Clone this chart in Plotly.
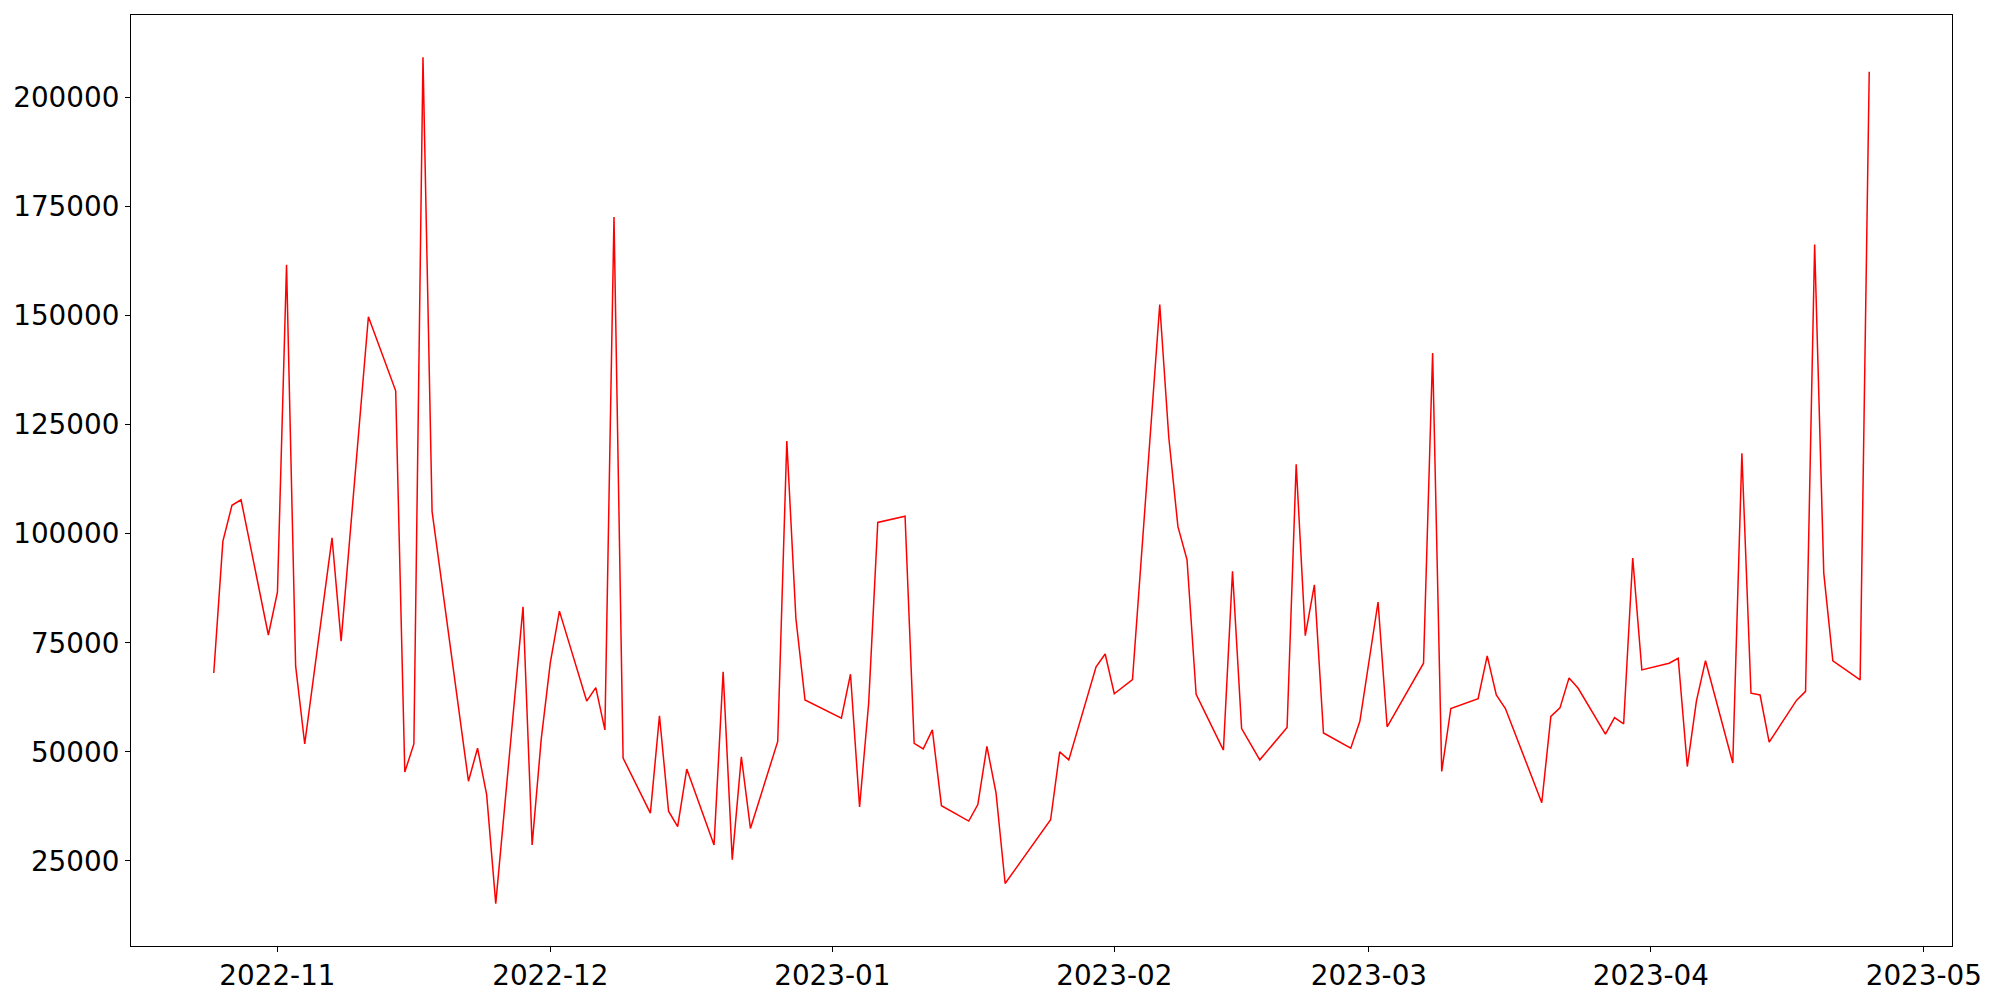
import pandas as pd
import plotly.graph_objects as go

dates = [
    "2022-10-25", "2022-10-26", "2022-10-27", "2022-10-28", "2022-10-31",
    "2022-11-01", "2022-11-02", "2022-11-03", "2022-11-04", "2022-11-07",
    "2022-11-08", "2022-11-11", "2022-11-14", "2022-11-15", "2022-11-16",
    "2022-11-17", "2022-11-18", "2022-11-22", "2022-11-23", "2022-11-24",
    "2022-11-25", "2022-11-28", "2022-11-29", "2022-11-30", "2022-12-01",
    "2022-12-02", "2022-12-05", "2022-12-06", "2022-12-07", "2022-12-08",
    "2022-12-09", "2022-12-12", "2022-12-13", "2022-12-14", "2022-12-15",
    "2022-12-16", "2022-12-19", "2022-12-20", "2022-12-21", "2022-12-22",
    "2022-12-23", "2022-12-26", "2022-12-27", "2022-12-28", "2022-12-29",
    "2023-01-02", "2023-01-03", "2023-01-04", "2023-01-05", "2023-01-06",
    "2023-01-09", "2023-01-10", "2023-01-11", "2023-01-12", "2023-01-13",
    "2023-01-16", "2023-01-17", "2023-01-18", "2023-01-19", "2023-01-20",
    "2023-01-25", "2023-01-26", "2023-01-27", "2023-01-30", "2023-01-31",
    "2023-02-01", "2023-02-03", "2023-02-06", "2023-02-07", "2023-02-08",
    "2023-02-09", "2023-02-10", "2023-02-13", "2023-02-14", "2023-02-15",
    "2023-02-17", "2023-02-20", "2023-02-21", "2023-02-22", "2023-02-23",
    "2023-02-24", "2023-02-27", "2023-02-28", "2023-03-02", "2023-03-03",
    "2023-03-07", "2023-03-08", "2023-03-09", "2023-03-10", "2023-03-13",
    "2023-03-14", "2023-03-15", "2023-03-16", "2023-03-20", "2023-03-21",
    "2023-03-22", "2023-03-23", "2023-03-24", "2023-03-27", "2023-03-28",
    "2023-03-29", "2023-03-30", "2023-03-31", "2023-04-03", "2023-04-04",
    "2023-04-05", "2023-04-06", "2023-04-07", "2023-04-10", "2023-04-11",
    "2023-04-12", "2023-04-13", "2023-04-14", "2023-04-17", "2023-04-18",
    "2023-04-19", "2023-04-20", "2023-04-21", "2023-04-24", "2023-04-25",
]

values = [
    68070, 98240, 106500, 107770, 76780,
    86600, 161610, 69630, 51810, 99060,
    75380, 149700, 132730, 45380, 51810,
    209160, 105110, 43270, 50830, 40180,
    15210, 83240, 28680, 52930, 70460,
    82250, 61640, 64710, 55040, 172560,
    48580, 35960, 58270, 36400, 32890,
    46060, 28680, 68370, 25310, 48880,
    32460, 52380, 121230, 80560, 61910,
    57700, 67800, 37360, 61200, 102570,
    103990, 51950, 50690, 55040, 37660,
    34150, 37930, 51260, 40590, 19840,
    34430, 50000, 48170, 69490, 72430,
    63310, 66540, 152500, 121920, 101600,
    94020, 63170, 50410, 91370, 55320,
    48170, 55590, 115900, 76640, 88270,
    54330, 50830, 57010, 84340, 55750,
    70320, 141410, 45510, 59940, 62190,
    72010, 63030, 59940, 38340, 58130,
    60080, 66950, 64570, 54060, 57840,
    56440, 94440, 68780, 70320, 71440,
    46640, 61640, 70890, 47460, 118420,
    63450, 63030, 52250, 61800, 63860,
    166240, 91020, 70870, 66490, 205840,
]

x = pd.to_datetime(dates)

# matplotlib-like 5% margins
xmin, xmax = x.min(), x.max()
xpad = (xmax - xmin) * 0.05
ymin, ymax = min(values), max(values)
ypad = (ymax - ymin) * 0.05

fig = go.Figure()
fig.add_trace(go.Scatter(
    x=x, y=values, mode="lines",
    line=dict(color="red", width=1.5),
    showlegend=False,
))

font = dict(family="DejaVu Sans", size=27.8, color="black")

# page body has an 8px default margin, so the figure is sized to fit inside it
fig.update_layout(
    width=1992, height=992,
    margin=dict(l=123, r=48, t=7, b=54, autoexpand=False),
    paper_bgcolor="white", plot_bgcolor="white",
    font=font,
    showlegend=False,
)
fig.update_xaxes(
    range=[xmin - xpad, xmax + xpad],
    tickformat="%Y-%m", dtick="M1", tick0="2022-11-01",
    showgrid=False, zeroline=False, automargin=False,
    showline=True, linecolor="black", linewidth=1.1, mirror=True,
    ticks="outside", ticklen=5, tickwidth=1.1, tickcolor="black",
    tickfont=font,
)
fig.update_yaxes(
    range=[ymin - ypad, ymax + ypad],
    tickformat="d", dtick=25000, tick0=0,
    showgrid=False, zeroline=False, automargin=False,
    showline=True, linecolor="black", linewidth=1.1, mirror=True,
    ticks="outside", ticklen=5, tickwidth=1.1, tickcolor="black",
    tickfont=font,
)

fig.write_html("out.html")
